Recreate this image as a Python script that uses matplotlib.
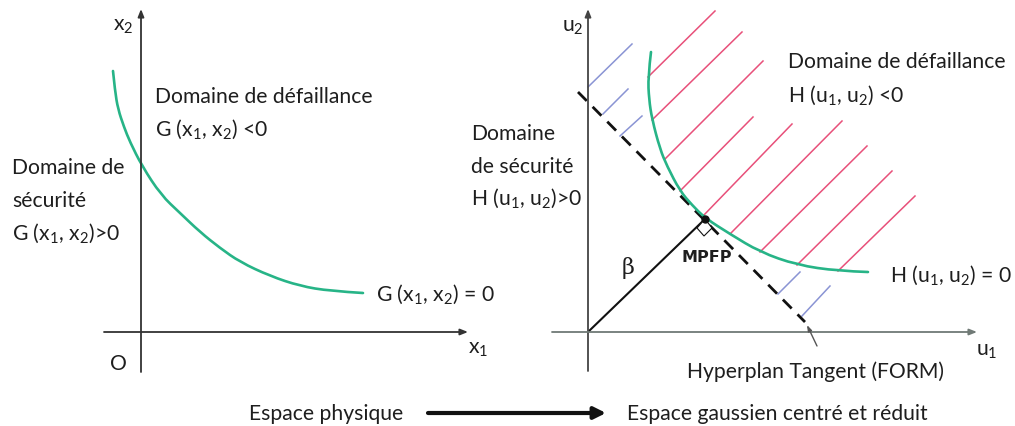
import numpy as np
import matplotlib
matplotlib.use("Agg")
import matplotlib.pyplot as plt
from matplotlib.patches import Polygon, PathPatch
from matplotlib.path import Path

plt.rcParams['font.family'] = ['Lato', 'DejaVu Sans']
plt.rcParams['mathtext.default'] = 'regular'

# limit state curve in physical space (pixel frame of the sketch)
g_x = [113, 115, 118, 124, 130, 142, 161, 180, 200, 220, 240, 270, 300, 330, 363]
g_y = [72, 92, 110, 128, 143, 167, 196, 214, 233, 249, 263, 277, 287, 292, 294]

# limit state curve in standard gaussian space
h_x = [651, 648, 649, 652, 660, 667, 680, 692, 705, 730, 760, 797, 838, 868]
h_y = [53, 78, 100, 120, 150, 167, 192, 206, 219, 235, 253, 266, 272, 273]

# failure domain hatching (red) : start on curve, end upper right
red_x0 = [648, 652, 665, 680, 703, 730, 760, 797, 838]
red_y0 = [78, 121, 160, 192, 217, 235, 253, 266, 272]
red_x1 = [715, 742, 763, 753, 792, 842, 867, 892, 915]
red_y1 = [12, 33, 62, 118, 125, 122, 147, 172, 197]

# FORM approximation error hatching (blue)
blue_x0 = [588, 603, 620, 778, 802]
blue_y0 = [88, 115, 137, 295, 317]
blue_x1 = [632, 628, 642, 800, 830]
blue_y1 = [45, 90, 117, 273, 287]

origin_u = (588, 333)
mpfp = (705, 220)
tangent = ([578, 805], [93, 323])

green = '#27b487'
red = '#e8507a'
blue = '#8a94d4'
txt = '#1e1e1e'
fs = 15.2

fig = plt.figure(figsize=(10.15, 4.27), dpi=100)
ax = fig.add_axes([0, 0, 1, 1])
ax.set_xlim(0, 1015)
ax.set_ylim(427, 0)
ax.axis('off')


def arrow(x0, y0, x1, y1, color='#333333', lw=1.3, head='-|>,head_length=0.45,head_width=0.18'):
    ax.annotate('', xy=(x1, y1), xytext=(x0, y0),
                arrowprops=dict(arrowstyle=head, color=color, lw=lw,
                                shrinkA=0, shrinkB=0))


def smooth_curve(xs, ys, **kw):
    # quadratic bezier through the midpoints, read points as control points
    pts = list(zip(xs, ys))
    verts = [pts[0]]
    codes = [Path.MOVETO]
    for i in range(1, len(pts) - 1):
        mid = ((pts[i][0] + pts[i + 1][0]) / 2, (pts[i][1] + pts[i + 1][1]) / 2)
        if i == len(pts) - 2:
            mid = pts[-1]
        verts += [pts[i], mid]
        codes += [Path.CURVE3, Path.CURVE3]
    ax.add_patch(PathPatch(Path(verts, codes), facecolor='none', **kw))


# ---- left panel : espace physique
arrow(141, 373, 141, 10)
arrow(104, 333, 468, 333)
smooth_curve(g_x, g_y, edgecolor=green, lw=1.9, capstyle='round')
ax.text(123, 26, 'x$_2$', fontsize=fs, color=txt, ha='center', va='center')
ax.text(478, 349, 'x$_1$', fontsize=fs, color=txt, ha='center', va='center')
ax.text(118, 364, 'O', fontsize=fs, color=txt, ha='center', va='center')
ax.text(155, 97, 'Domaine de défaillance', fontsize=fs, color=txt, va='center')
ax.text(155, 129, 'G (x$_1$, x$_2$) <0', fontsize=fs, color=txt, va='center')
ax.text(12, 168, 'Domaine de', fontsize=fs, color=txt, va='center')
ax.text(12, 201, 'sécurité', fontsize=fs, color=txt, va='center')
ax.text(12, 233, 'G (x$_1$, x$_2$)>0', fontsize=fs, color=txt, va='center')
ax.text(376, 294, 'G (x$_1$, x$_2$) = 0', fontsize=fs, color=txt, va='center')

# ---- right panel : espace gaussien
for i in range(len(red_x0)):
    ax.plot([red_x0[i], red_x1[i]], [red_y0[i], red_y1[i]], color=red, lw=1.1)
for i in range(len(blue_x0)):
    ax.plot([blue_x0[i], blue_x1[i]], [blue_y0[i], blue_y1[i]], color=blue, lw=1.1)

arrow(588, 372, 588, 10, color='#444444')
arrow(552, 333, 977, 333, color='#707a76')
smooth_curve(h_x, h_y, edgecolor=green, lw=1.9, capstyle='round', zorder=3)
ax.plot(tangent[0], tangent[1], color='#111111', lw=2.0, dashes=(4.5, 3))
ax.plot([origin_u[0], mpfp[0]], [origin_u[1], mpfp[1]], color='#111111', lw=1.5)
ax.add_patch(Polygon([mpfp, (697, 229), (704, 237), (712, 229)], closed=True,
                     facecolor='white', edgecolor='#111111', lw=0.8, zorder=4))
ax.plot([mpfp[0]], [mpfp[1]], 'o', color='#111111', ms=5, zorder=5)
arrow(817, 347, 807, 326, color='#555555', lw=1.0,
      head='-|>,head_length=0.35,head_width=0.12')

ax.text(573, 27, 'u$_2$', fontsize=fs, color=txt, ha='center', va='center')
ax.text(987, 351, 'u$_1$', fontsize=fs, color=txt, ha='center', va='center')
ax.text(788, 62, 'Domaine de défaillance', fontsize=fs, color=txt, va='center')
ax.text(788, 95, 'H (u$_1$, u$_2$) <0', fontsize=fs, color=txt, va='center')
ax.text(471, 134, 'Domaine', fontsize=fs, color=txt, va='center')
ax.text(471, 167, 'de sécurité', fontsize=fs, color=txt, va='center')
ax.text(471, 198, 'H (u$_1$, u$_2$)>0', fontsize=fs, color=txt, va='center')
ax.text(890, 275, 'H (u$_1$, u$_2$) = 0', fontsize=fs, color=txt, va='center')
ax.text(628, 268, 'β', fontsize=16, color=txt, ha='center', va='center',
        family='DejaVu Serif')
ax.text(682, 258, 'MPFP', fontsize=11.5, fontweight='bold', color=txt, va='center',
        family='DejaVu Sans')
ax.text(687, 372, 'Hyperplan Tangent (FORM)', fontsize=fs, color=txt, va='center')

# ---- bottom : transformation
ax.text(249, 414, 'Espace physique', fontsize=fs, color=txt, va='center')
arrow(428, 414, 606, 414, color='#111111', lw=3.0,
      head='-|>,head_length=0.7,head_width=0.35')
ax.text(627, 414, 'Espace gaussien centré et réduit', fontsize=fs, color=txt, va='center')

fig.savefig('out.png', dpi=100, facecolor='white')
